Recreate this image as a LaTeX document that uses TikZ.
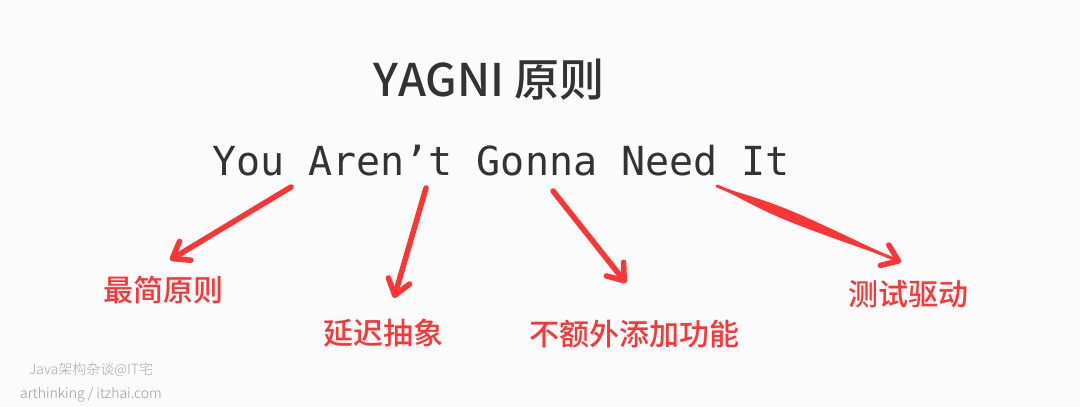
\documentclass[tikz,border=0pt]{standalone}
\usepackage{fontspec}
\usetikzlibrary{arrows.meta,calc}
\IfFontExistsTF{Noto Sans CJK SC Medium}
  {\newfontfamily\cjkm{Noto Sans CJK SC Medium}}
  {\newfontfamily\cjkm{Noto Sans CJK SC Bold}}
\IfFontExistsTF{Noto Sans CJK SC Light}
  {\newfontfamily\cjkl{Noto Sans CJK SC Light}}
  {\newfontfamily\cjkl{Noto Sans CJK SC}}
\newfontfamily\monof{DejaVu Sans Mono}
\definecolor{bgc}{HTML}{FCFBFB}
\definecolor{darkt}{HTML}{333333}
\definecolor{redc}{HTML}{FF3535}
\definecolor{wm}{HTML}{AAAAAA}
\definecolor{wmd}{HTML}{9A9A9A}
\tikzset{
  lbl/.style={text=redc, font=\cjkm\fontsize{30}{32}\selectfont, inner sep=0pt},
  redarrow/.style={draw=redc, line width=5.5pt, line cap=round, line join=round,
    -{Straight Barb[length=15pt,width=22pt,line width=5.5pt,round]}},
  wmark/.style={text=wm, font=\cjkl\fontsize{14}{16}\selectfont, inner sep=0pt}
}
\begin{document}
\begin{tikzpicture}[x=1pt,y=-1pt]
\fill[bgc] (0,0) rectangle (1080,407);
\useasboundingbox (0,0) rectangle (1080,407);
\node[text=darkt, font=\cjkm\fontsize{45}{48}\selectfont, inner sep=0pt, anchor=base] (title) at (489,96) {YAGNI 原则};
\node[text=darkt, font=\monof\fontsize{40}{44}\selectfont, inner sep=0pt, anchor=base] (sub) at (501,175) {You Aren’t Gonna Need It};
\node[lbl] (l1) at (163,290) {最简原则};
\node[lbl] (l2) at (383,333) {延迟抽象};
\node[lbl] (l3) at (634,334) {不额外添加功能};
\node[lbl] (l4) at (908,294) {测试驱动};
\coordinate (s1) at (291,187);
\coordinate (e1) at (170,260);
\coordinate (s2) at (426,188);
\coordinate (e2) at (394,298);
\coordinate (s3) at (553,191);
\coordinate (e3) at (626,283);
\coordinate (s4) at (717,186);
\coordinate (e4) at (901,262);
\draw[redarrow] (s1) -- (e1);
\draw[redarrow] (s2) -- (e2);
\draw[redarrow] (s3) -- (e3);
\coordinate (m4) at ($(s4)!0.35!(e4)$);
\coordinate (m4a) at ($(m4)!7pt!90:(e4)$);
\coordinate (m4b) at ($(m4)!7pt!-90:(e4)$);
\fill[redc] (s4) .. controls (m4a) .. (e4) .. controls (m4b) .. (s4) -- cycle;
\draw[redarrow, line width=3pt] (s4) -- (e4);
\node[wmark, anchor=west] (w1) at (29,370) {Java架构杂谈@IT宅};
\node[wmark, anchor=west, text=wmd] (w2) at (20,395) {arthinking / itzhai.com};
\end{tikzpicture}
\end{document}
